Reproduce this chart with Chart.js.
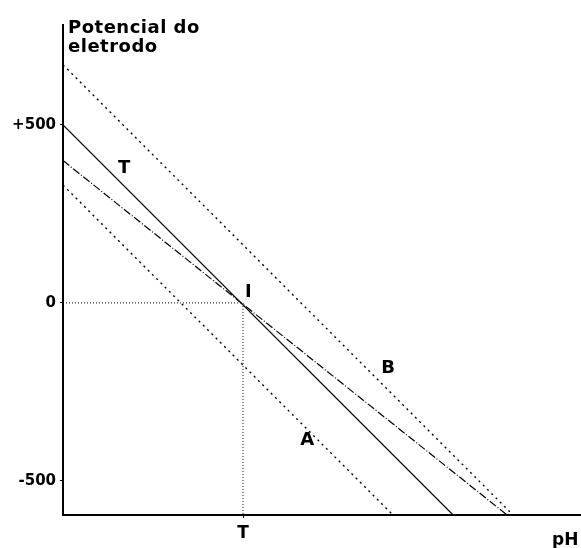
<!DOCTYPE html>
<html>
<head>
<meta charset="utf-8">
<script src="https://cdn.jsdelivr.net/npm/chart.js@4.4.0/dist/chart.umd.min.js"></script>
<style>
  body { margin: 0; background: #fff; }
  canvas { display: block; }
</style>
</head>
<body>
<canvas id="chart" width="581" height="548"></canvas>
<script>
// pH axis has no numbers, only the point T; T is put at 1 on an arbitrary scale
const tPos = 1;
const xRange = [0, 2.872];
const yRange = [-596, 781];
const yTickValues = [-500, 0, 500];
const yTickLabels = ['-500', '0', '+500'];
const xTickLabels = ['T'];

// lines as [pH, potential] end points
const lineT = [[0, 500], [2.167, -596]];     // solid, through I
const lineI = [[0, 400], [2.467, -596]];     // long dashes, through I
const lineB = [[0, 669], [2.5, -596]];       // dotted, upper
const lineA = [[0, 331], [1.833, -596]];     // dotted, lower
const guide = [[0, 0], [tPos, 0], [tPos, -596]];

// letters written next to the lines
const markLabels = [
    { text: 'T', x: 0.339, y: 379 },
    { text: 'I', x: 1.03, y: 31 },
    { text: 'B', x: 1.806, y: -183 },
    { text: 'A', x: 1.356, y: -385 }
];

const boldFont = size => `bold ${size}px "DejaVu Sans", sans-serif`;
const toPts = arr => arr.map(p => ({ x: p[0], y: p[1] }));

function lineSet(points, dash, width) {
    return {
        data: toPts(points),
        borderColor: '#000',
        borderWidth: width || 1,
        borderDash: dash || [],
        pointRadius: 0,
        fill: false,
        tension: 0
    };
}

const textPlugin = {
    id: 'texts',
    afterDraw(chart) {
        const ctx = chart.ctx;
        const xs = chart.scales.x, ys = chart.scales.y;
        ctx.save();
        ctx.fillStyle = '#000';
        ctx.textBaseline = 'alphabetic';
        ctx.textAlign = 'left';
        ctx.font = boldFont(18);
        ctx.letterSpacing = '0.5px';
        ctx.fillText('Potencial do', 68, 33);
        ctx.fillText('eletrodo', 68, 52);
        ctx.font = boldFont(17);
        ctx.letterSpacing = '0px';
        ctx.fillText('pH', 552, 545);

        ctx.font = boldFont(18);
        ctx.textAlign = 'center';
        ctx.textBaseline = 'middle';
        markLabels.forEach(m => {
            ctx.fillText(m.text, xs.getPixelForValue(m.x), ys.getPixelForValue(m.y));
        });
        ctx.restore();
    }
};

new Chart(document.getElementById('chart'), {
    type: 'line',
    data: {
        datasets: [
            lineSet(lineB, [2, 4], 1.4),
            lineSet(lineT, [], 1.2),
            lineSet(lineI, [8, 2, 1, 2], 1.2),
            lineSet(lineA, [2, 4], 1.4),
            lineSet(guide, [1, 2])
        ]
    },
    options: {
        responsive: false,
        animation: false,
        layout: { padding: { top: 25, right: 1, left: 0, bottom: 0 } },
        plugins: {
            legend: { display: false },
            tooltip: { enabled: false }
        },
        scales: {
            x: {
                type: 'linear',
                min: xRange[0],
                max: xRange[1],
                afterBuildTicks: s => { s.ticks = [{ value: tPos }]; },
                afterFit: s => { s.height = 33; },
                ticks: {
                    callback: (v, i) => xTickLabels[i],
                    color: '#000',
                    font: { family: 'DejaVu Sans', weight: 'bold', size: 17 },
                    padding: 5,
                    maxRotation: 0,
                    autoSkip: false
                },
                grid: { display: true, drawOnChartArea: false, drawTicks: true, tickLength: 3, color: '#000' },
                border: { display: true, color: '#000', width: 2 }
            },
            y: {
                type: 'linear',
                min: yRange[0],
                max: yRange[1],
                afterBuildTicks: s => { s.ticks = yTickValues.map(v => ({ value: v })); },
                afterFit: s => { s.width = 63; },
                ticks: {
                    callback: v => yTickLabels[yTickValues.indexOf(v)],
                    color: '#000',
                    font: { family: 'DejaVu Sans', weight: 'bold', size: 15 },
                    padding: 4,
                    autoSkip: false
                },
                grid: { display: true, drawOnChartArea: false, drawTicks: true, tickLength: 3, color: '#000' },
                border: { display: true, color: '#000', width: 2 }
            }
        }
    },
    plugins: [textPlugin]
});
</script>
</body>
</html>
